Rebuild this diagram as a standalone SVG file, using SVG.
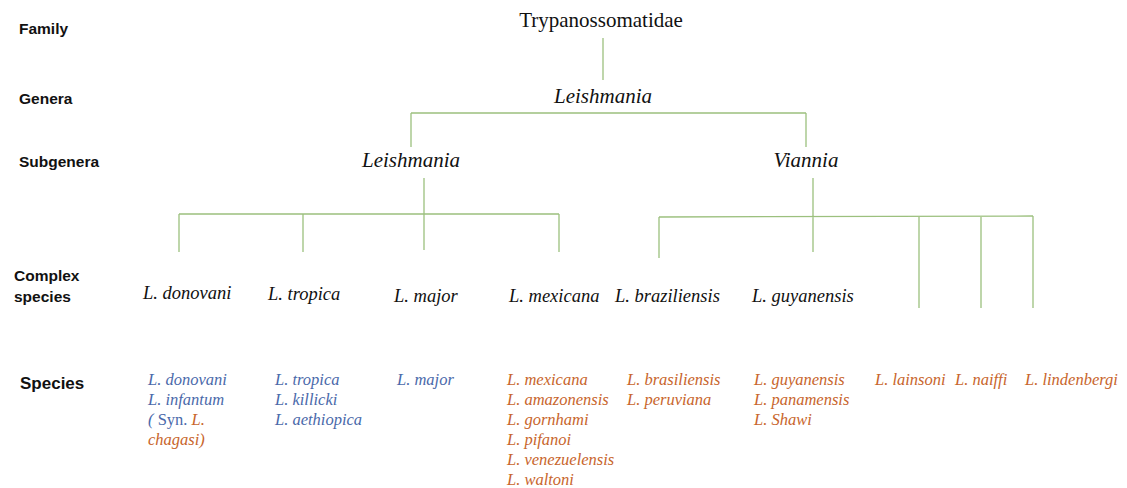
<svg xmlns="http://www.w3.org/2000/svg" width="1127" height="488" viewBox="0 0 1127 488">
<style>
.lvl{font-family:"Liberation Sans",Arial,sans-serif;font-weight:bold;font-size:15.5px;fill:#111}
.top{font-family:"Liberation Serif","Times New Roman",serif;font-size:21px;fill:#111}
.gen{font-family:"Liberation Serif","Times New Roman",serif;font-style:italic;font-size:21px;fill:#111}
.cx{font-family:"Liberation Serif","Times New Roman",serif;font-style:italic;font-size:18.5px;fill:#111}
.sp{font-family:"Liberation Serif","Times New Roman",serif;font-style:italic;font-size:16.5px}
.b{fill:#4a69aa}
.o{fill:#c8652c}
.ln{stroke:#9cc07e;stroke-width:1.3;fill:none}
</style>
<rect width="1127" height="488" fill="#fff"/>
<g id="levels">
<text class="lvl" x="19" y="34">Family</text>
<text class="lvl" x="19" y="104">Genera</text>
<text class="lvl" x="19" y="167">Subgenera</text>
<text class="lvl" x="14" y="281">Complex</text>
<text class="lvl" x="14" y="302">species</text>
<text class="lvl" x="20" y="389" style="font-size:17px">Species</text>
</g>
<g id="connectors">
<path class="ln" d="M603 38V80"/>
<path class="ln" d="M411 113H806M411 113V147M806 113V147"/>
<path class="ln" d="M424 178V250M179 214H559M179 214V252M303 214V252M559 214V252"/>
<path class="ln" d="M813 178V252M659 217L1033 216M659 217V258M919 216.5V308M981 216.5V308M1033 216V308"/>
</g>
<g id="family"><text class="top" x="601" y="27" text-anchor="middle">Trypanossomatidae</text></g>
<g id="genus"><text class="gen" x="603" y="103" text-anchor="middle">Leishmania</text></g>
<g id="sub-leishmania"><text class="gen" x="411" y="167" text-anchor="middle">Leishmania</text></g>
<g id="sub-viannia"><text class="gen" x="806" y="167" text-anchor="middle">Viannia</text></g>
<g id="cx-donovani"><text class="cx" x="143" y="299">L. donovani</text></g>
<g id="cx-tropica"><text class="cx" x="268" y="300">L. tropica</text></g>
<g id="cx-major"><text class="cx" x="394" y="302">L. major</text></g>
<g id="cx-mexicana"><text class="cx" x="509" y="302">L. mexicana</text></g>
<g id="cx-braziliensis"><text class="cx" x="615" y="302">L. braziliensis</text></g>
<g id="cx-guyanensis"><text class="cx" x="752" y="302">L. guyanensis</text></g>
<g id="sp-donovani" class="sp">
<text class="b" x="148" y="385">L. donovani</text>
<text class="b" x="148" y="405">L. infantum</text>
<text x="148" y="425"><tspan class="b">( </tspan><tspan class="b" font-style="normal">Syn.</tspan><tspan class="o"> L.</tspan></text>
<text class="o" x="148" y="445">chagasi)</text>
</g>
<g id="sp-tropica" class="sp">
<text class="b" x="275" y="385">L. tropica</text>
<text class="b" x="275" y="405">L. killicki</text>
<text class="b" x="275" y="425">L. aethiopica</text>
</g>
<g id="sp-major" class="sp"><text class="b" x="397" y="385">L. major</text></g>
<g id="sp-mexicana" class="sp">
<text class="o" x="507" y="385">L. mexicana</text>
<text class="o" x="507" y="405">L. amazonensis</text>
<text class="o" x="507" y="425">L. gornhami</text>
<text class="o" x="507" y="445">L. pifanoi</text>
<text class="o" x="507" y="465">L. venezuelensis</text>
<text class="o" x="507" y="485">L. waltoni</text>
</g>
<g id="sp-braziliensis" class="sp">
<text class="o" x="627" y="385">L. brasiliensis</text>
<text class="o" x="627" y="405">L. peruviana</text>
</g>
<g id="sp-guyanensis" class="sp">
<text class="o" x="754" y="385">L. guyanensis</text>
<text class="o" x="754" y="405">L. panamensis</text>
<text class="o" x="754" y="425">L. Shawi</text>
</g>
<g id="sp-lainsoni" class="sp"><text class="o" x="875" y="385">L. lainsoni</text></g>
<g id="sp-naiffi" class="sp"><text class="o" x="955" y="385">L. naiffi</text></g>
<g id="sp-lindenbergi" class="sp"><text class="o" x="1025" y="385">L. lindenbergi</text></g>
</svg>
